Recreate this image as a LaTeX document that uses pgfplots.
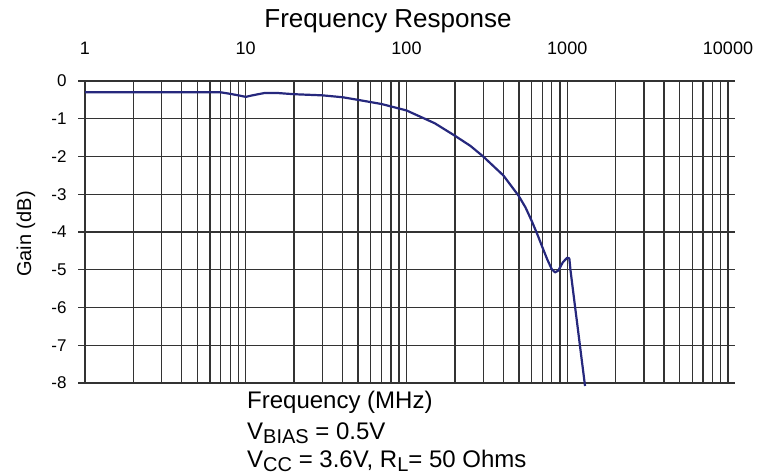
\documentclass[border=0pt]{standalone}
\usepackage{pgfplots}
\pgfplotsset{compat=1.18}
\usepackage{fontspec}
\setmainfont{Liberation Sans}
\definecolor{curve}{RGB}{38,40,125}
\newcommand\sub[1]{\raisebox{-3.5pt}{\fontsize{20}{20}\selectfont #1}}

\begin{document}
\begin{tikzpicture}[x=1pt,y=1pt]
\useasboundingbox (0,0) rectangle (758,476);
\begin{axis}[
    at={(85pt,93pt)}, anchor=south west,
    scale only axis,
    width=643pt, height=302pt,
    xmode=log, log basis x=10,
    xmin=1, xmax=10000,
    ymin=-8, ymax=0,
    clip=false,
    xtick={1,10,100,1000,10000},
    xticklabels={1,10,100,1000,10000},
    minor xtick={2,3,4,5,6,7,8,9,20,30,40,50,60,70,80,90,200,300,400,500,600,700,800,900,2000,3000,4000,5000,6000,7000,8000,9000},
    xticklabel pos=upper,
    ytick={-8,-7,-6,-5,-4,-3,-2,-1,0},
    yticklabels={-8,-7,-6,-5,-4,-3,-2,-1,0},
    xmajorgrids, xminorgrids, ymajorgrids,
    grid style={black!80, line width=1.3pt},
    major grid style={black!80, line width=1.3pt},
    minor grid style={black!80, line width=1.3pt},
    axis line style={black!80, line width=1.4pt},
    xtick style={draw=none},
    minor tick style={draw=none},
    ytick style={black!80, line width=1.3pt},
    tick align=outside,
    major tick length=7pt,
    xticklabel style={font=\fontsize{18}{18}\selectfont, yshift=16pt},
    yticklabel style={font=\fontsize{17}{17}\selectfont, xshift=-8pt},
  ]
  \addplot[curve, line width=2.2pt, mark=none, line join=round] coordinates {
    (1,-0.30) (2,-0.30) (5,-0.30) (7,-0.30) (8,-0.34) (9,-0.38)
    (10,-0.42) (11,-0.38) (13,-0.32) (16,-0.32) (20,-0.35) (30,-0.38)
    (40,-0.43) (50,-0.50) (70,-0.61) (100,-0.78) (150,-1.12)
    (200,-1.45) (250,-1.72) (300,-2.0) (400,-2.5) (500,-3.05) (550,-3.35)
    (600,-3.7) (650,-4.05) (700,-4.4) (750,-4.72) (800,-4.98) (840,-5.07)
    (880,-5.02) (940,-4.8) (1000,-4.68) (1030,-4.7)
    (1050,-5.05) (1120,-6.0) (1290,-8.08)
  };
\end{axis}
\node[anchor=base, inner sep=0, font=\fontsize{26}{26}\selectfont] at (388,448) {Frequency Response};
\node[anchor=base, inner sep=0, rotate=90, font=\fontsize{20}{20}\selectfont] at (31,242) {Gain (dB)};
\begin{scope}[every node/.style={anchor=base west, inner sep=0, font=\fontsize{24}{24}\selectfont}]
  \node at (247,67) {Frequency (MHz)};
  \node at (247,36) {V\sub{BIAS} = 0.5V};
  \node at (247,8) {V\sub{CC} = 3.6V, R\sub{L}= 50 Ohms};
\end{scope}
\end{tikzpicture}
\end{document}
